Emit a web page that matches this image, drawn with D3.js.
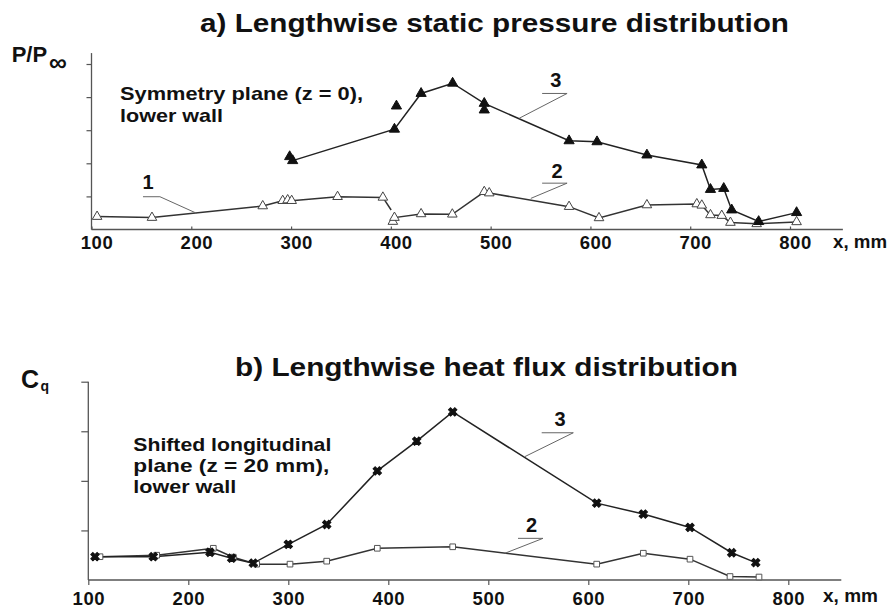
<html>
<head>
<meta charset="utf-8">
<style>
body{
  margin:0;
  padding:0;
  background:white;
  overflow:hidden;
}
text{
  font-family: 'Liberation Sans', Arial, sans-serif;
  font-weight: bold;
  fill: #111;
}
</style>
</head>
<body>
<div id="chart"></div>
<script src="https://cdn.jsdelivr.net/npm/d3@7"></script>
<script>
//========== DATA ===================================
// a) static pressure, x in mm, P/Pinf in tick units
const pX1 = [105.6,160.6,271.6,291.6,296.6,300.6,346.6,392,400.3];
const pY1 = [0.39,0.36,0.71,0.87,0.89,0.87,0.99,0.97,0.59];
const pX2 = [402,403.6,430.3,461.6,493.6,498.6,578.6,608.6,656.6,706.6,711.6,720.3,731.6,740.3,766.6,806.6];
const pY2 = [0.24,0.36,0.47,0.46,1.14,1.10,0.69,0.35,0.74,0.77,0.73,0.44,0.42,0.21,0.17,0.23];
const pX3 = [301.6,403.6,430.3,461.9,493.6,578.6,606.6,656.6,711.6,720.3,733.6,741.6,768.6,806.6];
const pY3 = [2.08,3.03,4.11,4.42,3.81,2.68,2.65,2.25,1.95,1.21,1.24,0.59,0.24,0.51];
const pX3extra = [298.6,405.6,493.6];          // repeated runs, symbols only
const pY3extra = [2.20,3.73,3.61];

// b) heat flux, x in mm, Cq in tick units
const qX2 = [111.7,168.4,225,245,268.4,301.7,338.4,389,464.4,608.4,655,701.7,741.7,770.7];
const qY2 = [0.47,0.50,0.64,0.46,0.32,0.32,0.38,0.64,0.67,0.32,0.54,0.42,0.07,0.06];
const qX3 = [106.7,165,221.7,243.4,265,300,338.4,389,428.4,464.4,608.4,655,701.7,743.4,767.4];
const qY3 = [0.47,0.47,0.56,0.44,0.34,0.72,1.12,2.20,2.80,3.39,1.55,1.33,1.06,0.55,0.35];

const xTicks = [100,200,300,400,500,600,700,800];
const topYTicks = [1,2,3,4,5];
const botYTicks = [1,2,3,4];

// curve labels: [name, label x, label y, leader points...]
const topLabels = [
  ["1", 156.6, 1.22, [[151.6,0.99],[168.6,0.99],[205.3,0.49]]],
  ["3", 565.3, 4.30, [[551.6,4.11],[576.6,4.11],[528.6,3.36]]],
  ["2", 566.6, 1.56, [[551.6,1.40],[576.6,1.40],[540.3,0.94]]]
];
const botLabels = [
  ["3", 571.7, 3.11, [[553.4,2.97],[585,2.97],[536.7,2.49]]],
  ["2", 543.2, 0.97, [[529.7,0.84],[554.7,0.84],[516.7,0.54]]]
];

//========== SVG =============
var width = 889, height = 608;
var svg = d3.select("#chart").append("svg")
    .attr("width", width).attr("height", height);

// scales, one pair for each panel
var xTop = d3.scaleLinear().domain([100,800]).range([91.5,790]);
var yTop = d3.scaleLinear().domain([0,5]).range([229.5,64]);
var xBot = d3.scaleLinear().domain([100,800]).range([88.3,788.3]);
var yBot = d3.scaleLinear().domain([0,4]).range([580,381.7]);

const zip = (xs, ys) => xs.map((v,i) => ({x:v, y:ys[i]}));

//========== AXES =============
const drawAxes = (x, y, yTicks, yTop, xTickDir, yTickLen, labelDx, labelPad) => {
  var g = svg.append("g");
  // axis lines run past the last tick like in the original
  g.append("line")
      .attr("x1", x(100)).attr("x2", x(853))
      .attr("y1", y(0)).attr("y2", y(0))
      .attr("stroke","#555").attr("stroke-width",1.3);
  g.append("line")
      .attr("x1", x(100)).attr("x2", x(100))
      .attr("y1", y(0)).attr("y2", y(yTop))
      .attr("stroke","#555").attr("stroke-width",1.3);

  var xa = g.append("g").attr("transform","translate(0,"+y(0)+")")
      .call(d3.axisBottom(x).tickValues(xTicks).tickSize(xTickDir).tickPadding(labelPad).tickFormat(d3.format("d")));
  xa.select(".domain").remove();
  xa.selectAll("line").attr("stroke","#555").attr("stroke-width",1.2);
  xa.selectAll("text").attr("dx",labelDx)
      .style("font-size","18.5px").style("letter-spacing","0.5px")
      .attr("font-family",null).attr("fill","#111");

  var ya = g.append("g").attr("transform","translate("+x(100)+",0)")
      .call(d3.axisLeft(y).tickValues(yTicks).tickSize(yTickLen).tickFormat(""));
  ya.select(".domain").remove();
  ya.selectAll("line").attr("stroke","#555").attr("stroke-width",1.2);
};

drawAxes(xTop, yTop, topYTicks, 5.33, -3, 5, 5, 6);
drawAxes(xBot, yBot, botYTicks, 4, 5, 7, 0, 7);

//========== SERIES =============
var line = (x, y) => d3.line().x(d => x(d.x)).y(d => y(d.y));

const drawSeries = (pts, x, y, color) => {
  svg.append("path")
      .datum(pts)
      .attr("d", line(x,y))
      .attr("fill","none")
      .attr("stroke",color)
      .attr("stroke-width",1.5);
};

const drawSymbols = (pts, x, y, type, size, fill, stroke, rot) => {
  svg.append("g").selectAll("path")
    .data(pts)
    .enter().append("path")
      .attr("transform", d => "translate("+x(d.x)+","+y(d.y)+") rotate("+(rot||0)+")")
      .attr("d", d3.symbol().type(type).size(size))
      .attr("fill", fill)
      .attr("stroke", stroke)
      .attr("stroke-width", 1);
};

// a) panel
var p1 = zip(pX1,pY1), p2 = zip(pX2,pY2), p3 = zip(pX3,pY3);
drawSeries(p1, xTop, yTop, "#333");
drawSeries(p2, xTop, yTop, "#333");
drawSeries(p3, xTop, yTop, "#222");
// last point of curve 1 is the end of its drop, no symbol there
drawSymbols(p1.slice(0,-1), xTop, yTop, d3.symbolTriangle, 40, "white", "#444");
drawSymbols(p2, xTop, yTop, d3.symbolTriangle, 40, "white", "#444");
drawSymbols(p3, xTop, yTop, d3.symbolTriangle, 45, "#111", "#111");
drawSymbols(zip(pX3extra,pY3extra), xTop, yTop, d3.symbolTriangle, 45, "#111", "#111");

// b) panel
var q2 = zip(qX2,qY2), q3 = zip(qX3,qY3);
drawSeries(q2, xBot, yBot, "#333");
drawSeries(q3, xBot, yBot, "#222");
drawSymbols(q2, xBot, yBot, d3.symbolSquare, 32, "white", "#555");
drawSymbols(q3, xBot, yBot, d3.symbolCross, 44, "#111", "#111", 45);

//========== CURVE LABELS =============
const drawLabels = (labels, x, y) => {
  labels.forEach(l => {
    svg.append("path")
      .attr("d", d3.line().x(d => x(d[0])).y(d => y(d[1]))(l[3]))
      .attr("fill","none").attr("stroke","#666").attr("stroke-width",1);
    svg.append("text")
      .attr("x", x(l[1])).attr("y", y(l[2]))
      .attr("text-anchor","middle")
      .style("font-size","20px")
      .text(l[0]);
  });
};
drawLabels(topLabels, xTop, yTop);
drawLabels(botLabels, xBot, yBot);

//========== TITLES & NOTES =============
const txt = (s, x, y, size, len) => {
  var t = svg.append("text").attr("x",x).attr("y",y).style("font-size",size+"px").text(s);
  if (len) t.attr("textLength",len).attr("lengthAdjust","spacingAndGlyphs");
  return t;
};

txt("a) Lengthwise static pressure distribution", 200, 32, 26, 589);
txt("b) Lengthwise heat flux distribution", 235, 376, 26, 503);

txt("Symmetry plane (z = 0),", 120, 100, 18.5, 243);
txt("lower wall", 120, 121.7, 18.5, 103);

txt("Shifted longitudinal", 133.3, 450.7, 18.5, 198);
txt("plane (z = 20 mm),", 133.3, 471.7, 18.5, 196);
txt("lower wall", 133.3, 493.3, 18.5, 103);

// axis names
txt("P/P", 11.7, 62, 22);
txt("\u221E", 49, 71, 25);
txt("C", 21, 388, 25);
txt("q", 40.5, 391, 14);
txt("x, mm", 833, 248, 18.5, 54);
txt("x, mm", 823, 602, 18.5, 55);
</script>
</body>
</html>
